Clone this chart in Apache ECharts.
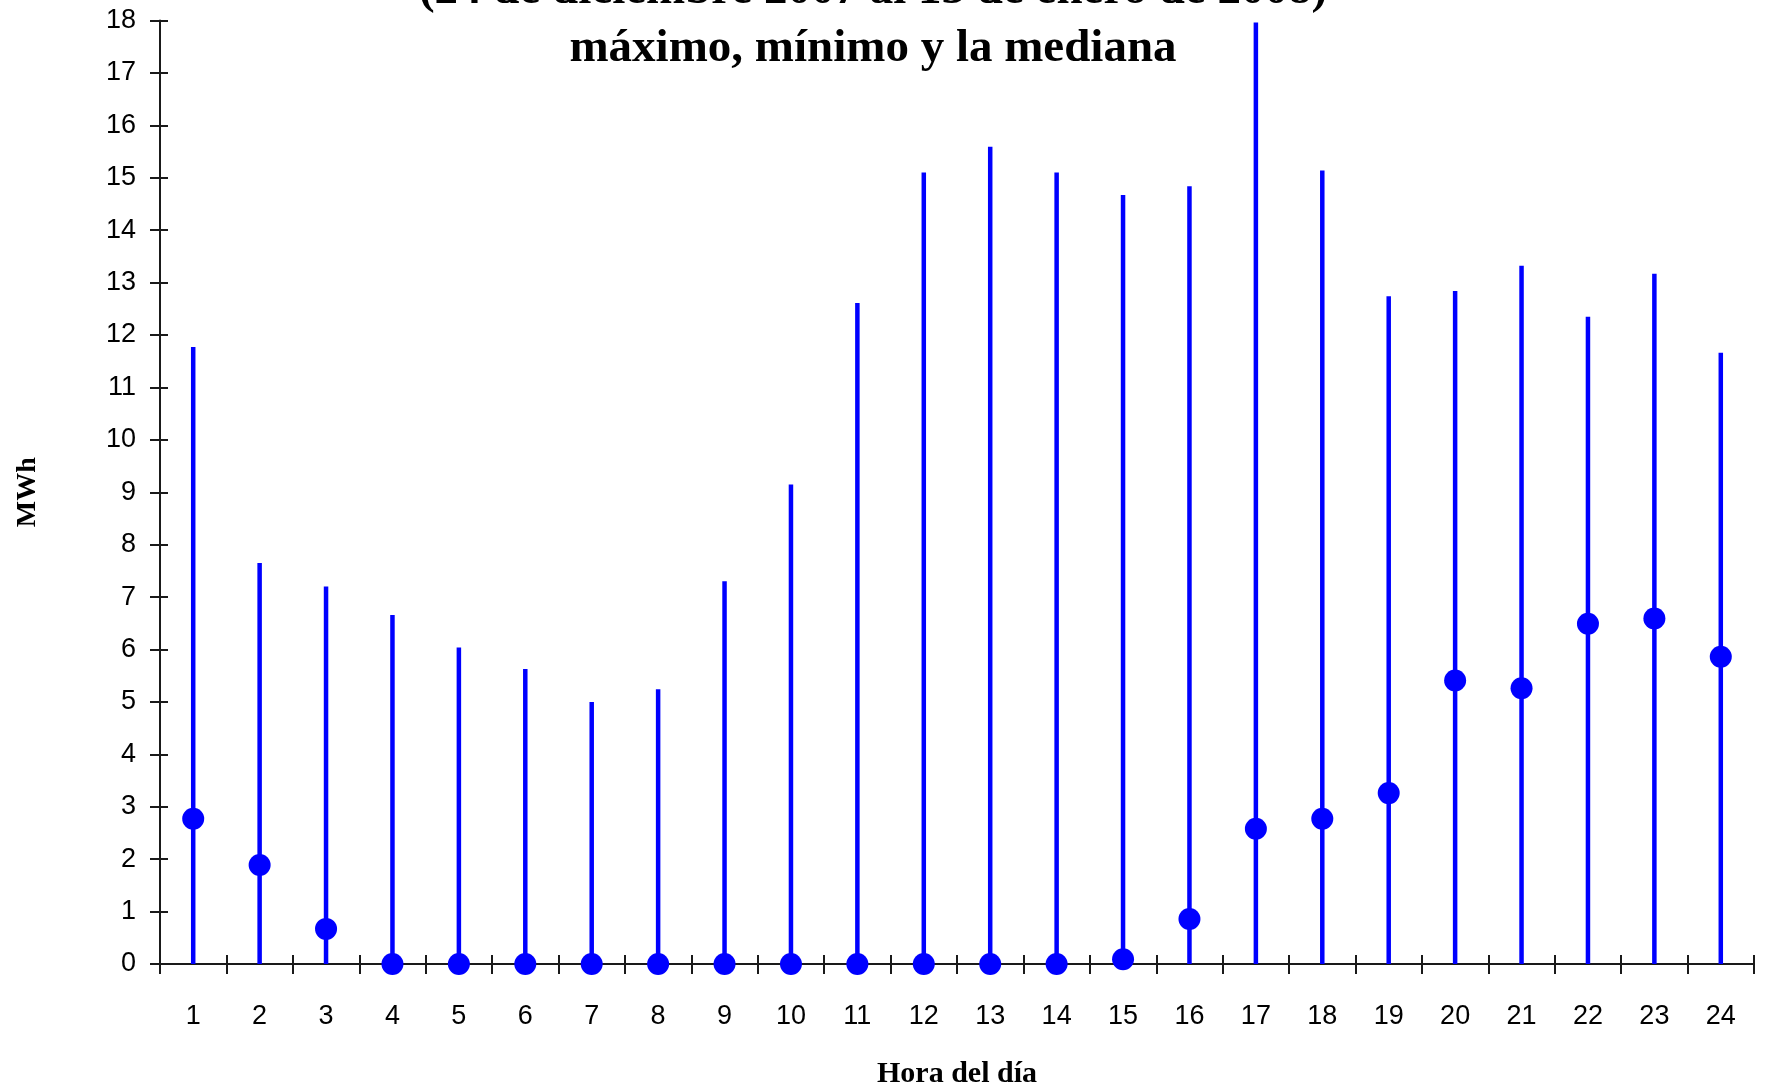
<!DOCTYPE html>
<html>
<head>
<meta charset="utf-8">
<title>MWh por hora del día</title>
<script src="https://cdn.jsdelivr.net/npm/echarts@6/dist/echarts.min.js"></script>
<style>
  html, body { margin: 0; padding: 0; background: #fff; }
  #chart { width: 1765px; height: 1087px; }
</style>
</head>
<body>
<div id="chart"></div>
<script>
// Hours of the day (x categories)
const hours = ['1','2','3','4','5','6','7','8','9','10','11','12','13','14','15','16','17','18','19','20','21','22','23','24'];
// Daily maximum per hour (MWh)
const maxVals = [11.77, 7.65, 7.20, 6.66, 6.04, 5.63, 5.00, 5.24, 7.30, 9.15, 12.61, 15.10,
                 15.59, 15.10, 14.67, 14.84, 17.96, 15.14, 12.74, 12.84, 13.32, 12.35, 13.17, 11.66];
// Daily minimum per hour (MWh)
const minVals = [0, 0, 0, 0, 0, 0, 0, 0, 0, 0, 0, 0,
                 0, 0, 0, 0, 0, 0, 0, 0, 0, 0, 0, 0];
// Median per hour (MWh)
const medianVals = [2.77, 1.89, 0.67, 0, 0, 0, 0, 0, 0, 0, 0, 0,
                    0, 0, 0.09, 0.86, 2.58, 2.77, 3.26, 5.41, 5.26, 6.49, 6.59, 5.86];

const titleLines = ['(24 de diciembre 2007 al 13 de enero de 2008)', 'máximo, mínimo y la mediana'];

const BLUE = '#0000ff';
const AXIS = '#1a1a1a';
const tickFont = { fontFamily: 'Liberation Sans', fontSize: 27, color: '#000' };
const serifBold = { fontFamily: 'Liberation Serif', fontWeight: 'bold', color: '#000' };

const chart = echarts.init(document.getElementById('chart'), null, { renderer: 'canvas' });

const option = {
  backgroundColor: '#fff',
  animation: false,
  grid: { left: 160, right: 11, top: 20.5, bottom: 123, containLabel: false, outerBoundsMode: 'none' },
  graphic: [
    { type: 'text', x: 873, y: -9, z: 10,
      style: { text: titleLines[0], fontFamily: 'Liberation Serif', fontWeight: 'bold', fontSize: 47,
               fill: '#000', align: 'center', verticalAlign: 'middle' } },
    { type: 'text', x: 873, y: 49, z: 10,
      style: { text: titleLines[1], fontFamily: 'Liberation Serif', fontWeight: 'bold', fontSize: 47,
               fill: '#000', align: 'center', verticalAlign: 'middle' } }
  ],
  xAxis: [
    {
      type: 'category', data: hours, position: 'bottom',
      name: 'Hora del día', nameLocation: 'middle', nameGap: 95,
      nameTextStyle: Object.assign({ fontSize: 30 }, serifBold),
      axisLine: { show: true, lineStyle: { color: AXIS, width: 2 } },
      axisTick: { show: true, length: 10, lineStyle: { color: AXIS, width: 2 } },
      axisLabel: Object.assign({ margin: 39 }, tickFont),
      splitLine: { show: false }
    },
    {
      // inner half of the crossing ticks
      type: 'category', data: hours, position: 'bottom',
      axisLine: { show: false },
      axisTick: { show: true, inside: true, length: 9, lineStyle: { color: AXIS, width: 2 } },
      axisLabel: { show: false },
      splitLine: { show: false }
    }
  ],
  yAxis: [
    {
      type: 'value', min: 0, max: 18, interval: 1, position: 'left',
      name: 'MWh', nameLocation: 'middle', nameGap: 118,
      nameTextStyle: Object.assign({ fontSize: 28 }, serifBold),
      axisLine: { show: true, lineStyle: { color: AXIS, width: 2 } },
      axisTick: { show: true, length: 10, lineStyle: { color: AXIS, width: 2 } },
      axisLabel: Object.assign({ margin: 24 }, tickFont),
      splitLine: { show: false }
    },
    {
      type: 'value', min: 0, max: 18, interval: 1, position: 'left',
      axisLine: { show: false },
      axisTick: { show: true, inside: true, length: 8, lineStyle: { color: AXIS, width: 2 } },
      axisLabel: { show: false },
      splitLine: { show: false }
    }
  ],
  series: [
    {
      // min–max range per hour
      type: 'custom',
      xAxisIndex: 0, yAxisIndex: 0,
      data: hours.map((h, i) => [i, minVals[i], maxVals[i]]),
      encode: { x: 0, y: [1, 2] },
      renderItem: function (params, api) {
        const lo = api.coord([api.value(0), api.value(1)]);
        const hi = api.coord([api.value(0), api.value(2)]);
        return {
          type: 'line',
          shape: { x1: lo[0], y1: lo[1], x2: hi[0], y2: hi[1] },
          style: { stroke: BLUE, lineWidth: 4.5 }
        };
      },
      z: 2
    },
    {
      // median per hour
      type: 'scatter',
      xAxisIndex: 0, yAxisIndex: 0,
      data: medianVals,
      symbol: 'circle', symbolSize: 22,
      itemStyle: { color: BLUE, opacity: 1 },
      z: 3
    }
  ]
};

chart.setOption(option);
</script>
</body>
</html>
